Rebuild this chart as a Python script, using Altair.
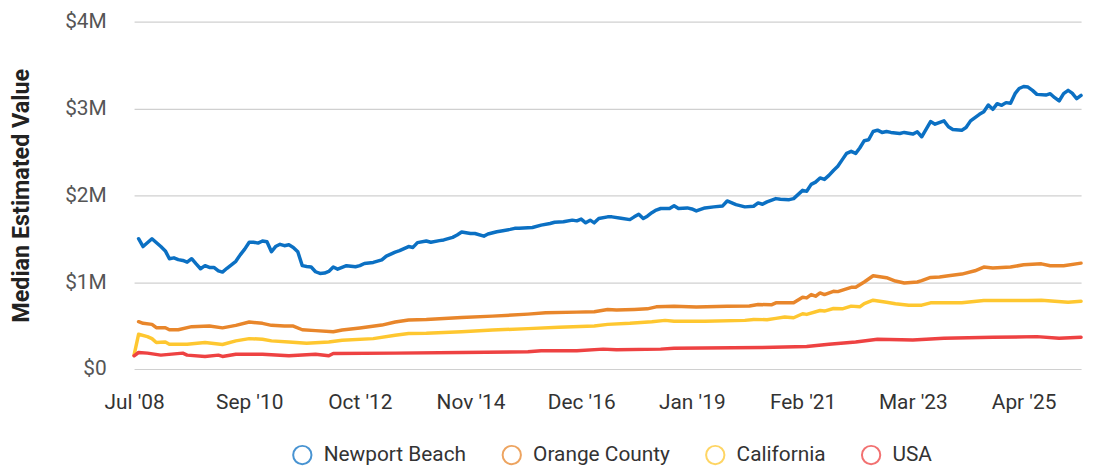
import altair as alt
import pandas as pd

# Median estimated value, in millions of dollars
newport = [
    ("2008-08", 1.50), ("2008-09", 1.41), ("2008-11", 1.50), ("2009-01", 1.41), ("2009-02", 1.36),
    ("2009-03", 1.27), ("2009-04", 1.28), ("2009-05", 1.26), ("2009-06", 1.25), ("2009-07", 1.23),
    ("2009-08", 1.27), ("2009-09", 1.21), ("2009-10", 1.155), ("2009-11", 1.19), ("2009-12", 1.17),
    ("2010-01", 1.17), ("2010-02", 1.13), ("2010-03", 1.116), ("2010-04", 1.16), ("2010-06", 1.24),
    ("2010-07", 1.314), ("2010-08", 1.38), ("2010-09", 1.46), ("2010-10", 1.46), ("2010-11", 1.45),
    ("2010-12", 1.474), ("2011-01", 1.466), ("2011-02", 1.35), ("2011-03", 1.41), ("2011-04", 1.436),
    ("2011-05", 1.42), ("2011-06", 1.43), ("2011-07", 1.40), ("2011-08", 1.35), ("2011-09", 1.19),
    ("2011-10", 1.18), ("2011-11", 1.174), ("2011-12", 1.12), ("2012-01", 1.10), ("2012-02", 1.105),
    ("2012-03", 1.124), ("2012-04", 1.174), ("2012-05", 1.15), ("2012-07", 1.19), ("2012-09", 1.177),
    ("2012-10", 1.19), ("2012-11", 1.215), ("2013-01", 1.227), ("2013-03", 1.257), ("2013-04", 1.30),
    ("2013-06", 1.345), ("2013-07", 1.363), ("2013-09", 1.41), ("2013-10", 1.40), ("2013-11", 1.455),
    ("2014-01", 1.474), ("2014-02", 1.46), ("2014-04", 1.478), ("2014-05", 1.486), ("2014-07", 1.516),
    ("2014-08", 1.543), ("2014-09", 1.577), ("2014-11", 1.56), ("2014-12", 1.56), ("2015-02", 1.53),
    ("2015-03", 1.554), ("2015-05", 1.58), ("2015-06", 1.589), ("2015-08", 1.608), ("2015-09", 1.62),
    ("2015-10", 1.62), ("2016-01", 1.63), ("2016-03", 1.657), ("2016-05", 1.676), ("2016-06", 1.69),
    ("2016-08", 1.695), ("2016-10", 1.714), ("2016-11", 1.706), ("2016-12", 1.726), ("2017-01", 1.683),
    ("2017-02", 1.714), ("2017-03", 1.683), ("2017-04", 1.733), ("2017-06", 1.752), ("2017-07", 1.752),
    ("2017-09", 1.737), ("2017-11", 1.72), ("2017-12", 1.752), ("2018-01", 1.783), ("2018-02", 1.733),
    ("2018-03", 1.76), ("2018-04", 1.80), ("2018-05", 1.83), ("2018-06", 1.848), ("2018-08", 1.848),
    ("2018-09", 1.88), ("2018-10", 1.848), ("2018-12", 1.855), ("2019-01", 1.843), ("2019-02", 1.82),
    ("2019-04", 1.855), ("2019-06", 1.867), ("2019-08", 1.878), ("2019-09", 1.935), ("2019-11", 1.893),
    ("2020-01", 1.867), ("2020-03", 1.874), ("2020-04", 1.912), ("2020-05", 1.897), ("2020-06", 1.924),
    ("2020-08", 1.962), ("2020-09", 1.954), ("2020-11", 1.95), ("2020-12", 1.962), ("2021-02", 2.057),
    ("2021-03", 2.046), ("2021-04", 2.126), ("2021-05", 2.152), ("2021-06", 2.20), ("2021-07", 2.183),
    ("2021-08", 2.229), ("2021-09", 2.286), ("2021-10", 2.335), ("2021-11", 2.411), ("2021-12", 2.483),
    ("2022-01", 2.506), ("2022-02", 2.483), ("2022-03", 2.545), ("2022-04", 2.629), ("2022-05", 2.64),
    ("2022-06", 2.735), ("2022-07", 2.75), ("2022-08", 2.724), ("2022-09", 2.735), ("2022-10", 2.724),
    ("2022-12", 2.712), ("2023-01", 2.724), ("2023-03", 2.705), ("2023-04", 2.731), ("2023-05", 2.674),
    ("2023-06", 2.762), ("2023-07", 2.849), ("2023-08", 2.819), ("2023-10", 2.857), ("2023-11", 2.789),
    ("2023-12", 2.758), ("2024-02", 2.75), ("2024-03", 2.78), ("2024-04", 2.857), ("2024-06", 2.933),
    ("2024-07", 2.963), ("2024-08", 3.04), ("2024-09", 2.99), ("2024-10", 3.055), ("2024-11", 3.036),
    ("2024-12", 3.067), ("2025-01", 3.06), ("2025-02", 3.17), ("2025-03", 3.23), ("2025-04", 3.253),
    ("2025-05", 3.246), ("2025-06", 3.208), ("2025-07", 3.162), ("2025-09", 3.154), ("2025-10", 3.17),
    ("2025-11", 3.124), ("2025-12", 3.086), ("2026-01", 3.17), ("2026-02", 3.208), ("2026-03", 3.177),
    ("2026-04", 3.112), ("2026-05", 3.15),
]

orange_county = [
    ("2008-08", 0.545), ("2008-09", 0.526), ("2008-11", 0.514), ("2008-12", 0.476), ("2009-02", 0.476),
    ("2009-03", 0.452), ("2009-05", 0.452), ("2009-08", 0.488), ("2009-12", 0.495), ("2010-03", 0.474),
    ("2010-06", 0.503), ("2010-09", 0.541), ("2010-12", 0.526), ("2011-02", 0.503), ("2011-05", 0.495),
    ("2011-07", 0.495), ("2011-09", 0.452), ("2011-12", 0.442), ("2012-04", 0.43), ("2012-06", 0.449),
    ("2012-10", 0.472), ("2013-03", 0.506), ("2013-06", 0.541), ("2013-09", 0.564), ("2014-01", 0.571),
    ("2014-09", 0.594), ("2015-04", 0.609), ("2015-12", 0.632), ("2016-04", 0.648), ("2016-11", 0.655),
    ("2017-03", 0.659), ("2017-06", 0.686), ("2017-08", 0.68), ("2017-12", 0.686), ("2018-03", 0.693),
    ("2018-05", 0.716), ("2018-09", 0.724), ("2019-02", 0.714), ("2019-09", 0.724), ("2020-02", 0.726),
    ("2020-04", 0.743), ("2020-07", 0.739), ("2020-08", 0.762), ("2020-12", 0.762), ("2021-02", 0.827),
    ("2021-03", 0.819), ("2021-04", 0.857), ("2021-05", 0.838), ("2021-06", 0.876), ("2021-07", 0.857),
    ("2021-09", 0.895), ("2021-10", 0.891), ("2022-01", 0.941), ("2022-02", 0.941), ("2022-04", 1.002),
    ("2022-06", 1.074), ("2022-09", 1.051), ("2022-11", 1.013), ("2023-01", 0.99), ("2023-04", 1.002),
    ("2023-05", 1.017), ("2023-07", 1.055), ("2023-09", 1.059), ("2023-11", 1.074), ("2024-02", 1.093),
    ("2024-05", 1.131), ("2024-07", 1.174), ("2024-09", 1.162), ("2025-01", 1.174), ("2025-04", 1.20),
    ("2025-08", 1.211), ("2025-10", 1.189), ("2026-01", 1.189), ("2026-05", 1.219),
]

california = [
    ("2008-07", 0.16), ("2008-08", 0.40), ("2008-10", 0.373), ("2008-11", 0.35), ("2008-12", 0.305),
    ("2009-02", 0.312), ("2009-03", 0.286), ("2009-07", 0.286), ("2009-11", 0.305), ("2010-03", 0.282),
    ("2010-06", 0.324), ("2010-09", 0.35), ("2010-12", 0.343), ("2011-02", 0.324), ("2011-06", 0.312),
    ("2011-10", 0.297), ("2012-03", 0.312), ("2012-06", 0.331), ("2013-01", 0.35), ("2013-06", 0.389),
    ("2013-09", 0.408), ("2014-01", 0.411), ("2014-09", 0.43), ("2015-04", 0.449), ("2015-12", 0.465),
    ("2016-07", 0.48), ("2017-03", 0.495), ("2017-06", 0.514), ("2017-11", 0.526), ("2018-04", 0.545),
    ("2018-07", 0.56), ("2018-09", 0.549), ("2019-04", 0.549), ("2020-01", 0.56), ("2020-03", 0.571),
    ("2020-06", 0.568), ("2020-08", 0.583), ("2020-10", 0.598), ("2020-12", 0.59), ("2021-02", 0.636),
    ("2021-03", 0.629), ("2021-06", 0.674), ("2021-07", 0.667), ("2021-09", 0.697), ("2021-11", 0.693),
    ("2022-01", 0.724), ("2022-03", 0.716), ("2022-04", 0.754), ("2022-06", 0.792), ("2022-09", 0.769),
    ("2022-11", 0.751), ("2023-02", 0.735), ("2023-05", 0.735), ("2023-07", 0.762), ("2024-02", 0.762),
    ("2024-07", 0.789), ("2025-05", 0.789), ("2025-08", 0.792), ("2026-02", 0.769), ("2026-05", 0.781),
]

usa = [
    ("2008-07", 0.152), ("2008-08", 0.19), ("2008-10", 0.183), ("2009-01", 0.16), ("2009-06", 0.183),
    ("2009-07", 0.16), ("2009-11", 0.145), ("2010-02", 0.16), ("2010-03", 0.145), ("2010-06", 0.171),
    ("2010-12", 0.171), ("2011-06", 0.152), ("2011-12", 0.171), ("2012-03", 0.152), ("2012-04", 0.179),
    ("2013-06", 0.183), ("2014-09", 0.19), ("2015-12", 0.198), ("2016-03", 0.21), ("2016-11", 0.21),
    ("2017-05", 0.229), ("2017-08", 0.221), ("2018-06", 0.229), ("2018-09", 0.24), ("2020-05", 0.248),
    ("2021-03", 0.259), ("2021-08", 0.286), ("2022-02", 0.312), ("2022-07", 0.343), ("2023-03", 0.335),
    ("2023-10", 0.354), ("2024-09", 0.366), ("2025-07", 0.373), ("2025-12", 0.354), ("2026-05", 0.366),
]

series_names = ["Newport Beach", "Orange County", "California", "USA"]
series_colors = ["#0b70c3", "#e8862b", "#fec730", "#ee4242"]
tick_months = ["2008-07", "2010-09", "2012-10", "2014-11", "2016-12", "2019-01", "2021-02", "2023-03", "2025-04"]
y_ticks = [0, 1, 2, 3, 4]

rows = []
for name, series in zip(series_names, [newport, orange_county, california, usa]):
    for month, value in series:
        rows.append({"date": month + "-01", "series": name, "value": value})
df = pd.DataFrame(rows)
df["date"] = pd.to_datetime(df["date"])


def dt(month_str):
    return alt.DateTime(year=int(month_str[:4]), month=int(month_str[5:7]), date=1)


FONT = "Roboto"

chart = alt.Chart(df).mark_line(strokeWidth=3.5, strokeJoin="round", strokeCap="round").encode(
    x=alt.X(
        "date:T",
        scale=alt.Scale(domain=[dt("2008-07"), dt("2026-05")]),
        axis=alt.Axis(
            values=[dt(m) for m in tick_months],
            format="%b '%y",
            title=None,
            grid=False,
            domain=False,
            ticks=False,
            labelFlush=False,
            labelOverlap=False,
            labelPadding=23,
            labelFontSize=21,
            labelFont=FONT,
            labelColor="#333333",
        ),
    ),
    y=alt.Y(
        "value:Q",
        scale=alt.Scale(domain=[0, 4]),
        axis=alt.Axis(
            values=y_ticks,
            labelExpr="datum.value == 0 ? '$0' : '$' + datum.value + 'M'",
            title="Median Estimated Value",
            titleFont=FONT,
            titleFontSize=23.5,
            titleFontWeight="bold",
            titleColor="#222222",
            titlePadding=31,
            labelFont=FONT,
            labelFontSize=21,
            labelColor="#555555",
            labelPadding=28,
            domain=False,
            ticks=False,
            gridColor="#d0d0d0",
            gridWidth=1.2,
        ),
    ),
    color=alt.Color(
        "series:N",
        title=None,
        scale=alt.Scale(domain=series_names, range=series_colors),
        sort=series_names,
        legend=alt.Legend(
            orient="none",
            legendX=159,
            legendY=426,
            direction="horizontal",
            padding=0,
            symbolType="circle",
            symbolFillColor="white",
            symbolStrokeWidth=2,
            symbolSize=340,
            symbolOpacity=0.75,
            labelFont=FONT,
            labelFontSize=21,
            labelColor="#333333",
            labelOffset=11,
            columnPadding=32,
        ),
    ),
).properties(
    width=954,
    height=350,
    padding={"left": 127, "top": 12, "right": 8, "bottom": 97},
    autosize=alt.AutoSizeParams(type="none"),
).configure_view(strokeWidth=0)

chart.save("out.html", embed_options={"renderer": "svg", "actions": False})
